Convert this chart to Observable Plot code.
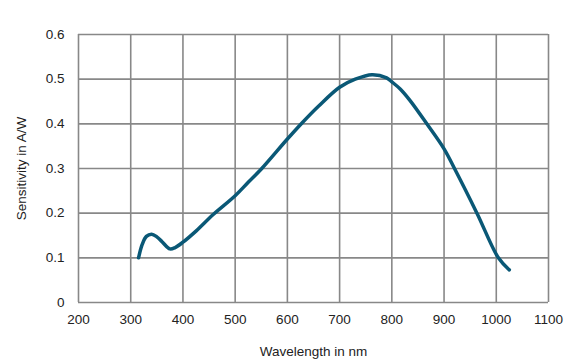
<!DOCTYPE html>
<html><head><meta charset="utf-8">
<script src="https://cdn.jsdelivr.net/npm/d3@7"></script>
<script src="https://cdn.jsdelivr.net/npm/@observablehq/plot@0.6"></script>
<style>body{margin:0;background:#fff}</style>
</head><body><div id="chart"></div>
<script>
const wavelength = [315, 322, 330, 340, 350, 360, 375, 385, 400, 426, 458, 500, 525, 551, 600, 628, 660, 700, 730, 762, 790, 800, 816, 835, 867, 900, 920, 963, 1004, 1025];
const sensitivity = [0.100, 0.130, 0.148, 0.153, 0.147, 0.136, 0.120, 0.123, 0.135, 0.161, 0.197, 0.239, 0.269, 0.300, 0.366, 0.402, 0.440, 0.482, 0.500, 0.510, 0.503, 0.494, 0.478, 0.452, 0.400, 0.344, 0.300, 0.200, 0.100, 0.073];
const xTicks = [200, 300, 400, 500, 600, 700, 800, 900, 1000, 1100];
const yTicks = [0, 0.1, 0.2, 0.3, 0.4, 0.5, 0.6];
const data = wavelength.map((w, i) => ({w, s: sensitivity[i]}));
const font = "'Liberation Sans', Arial, sans-serif";
const chart = Plot.plot({
  width: 571, height: 363,
  marginLeft: 78, marginRight: 23, marginTop: 34, marginBottom: 61,
  style: {fontFamily: font, fontSize: "13.5px", color: "#222", background: "#fff"},
  x: {domain: [200, 1100]},
  y: {domain: [0, 0.6]},
  marks: [
    Plot.gridX(xTicks, {stroke: "#888", strokeOpacity: 1, strokeWidth: 1.6}),
    Plot.gridY(yTicks, {stroke: "#888", strokeOpacity: 1, strokeWidth: 1.6}),
    Plot.axisX(xTicks, {tickSize: 0, tickPadding: 12, tickFormat: d => String(d), label: "Wavelength in nm", labelAnchor: "center", labelArrow: "none", labelOffset: 53}),
    Plot.axisY(yTicks, {tickSize: 0, tickPadding: 14, tickFormat: d => d === 0 ? "0" : d.toFixed(1), label: "Sensitivity in A/W", labelAnchor: "center", labelArrow: "none", labelOffset: 62}),
    Plot.line(data, {x: "w", y: "s", stroke: "#0a5876", strokeWidth: 3.5, curve: "catmull-rom"})
  ]
});
document.getElementById("chart").appendChild(chart);
</script>
</body></html>
